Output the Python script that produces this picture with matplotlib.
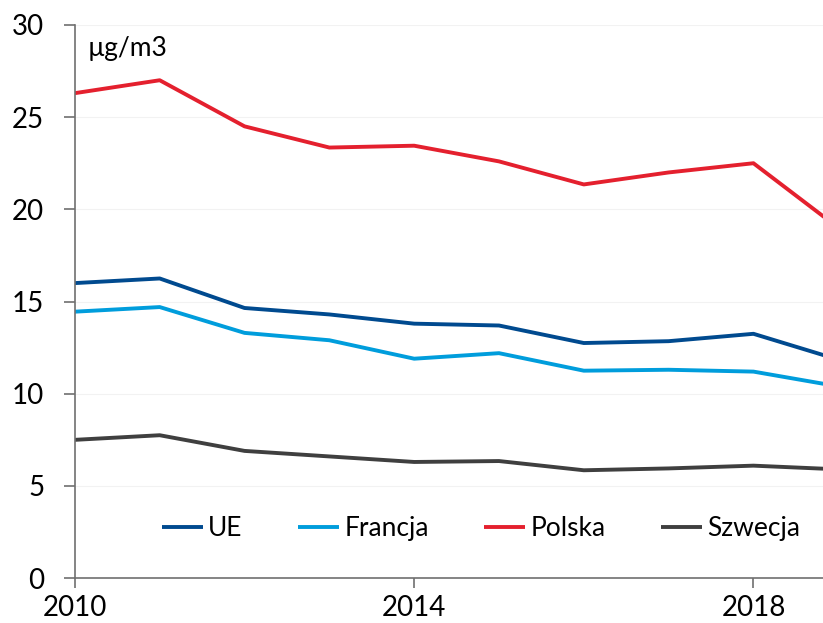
import matplotlib.pyplot as plt

# annual mean PM2.5 concentration, µg/m3
years = [2010, 2011, 2012, 2013, 2014, 2015, 2016, 2017, 2018, 2019]
ue = [16.0, 16.25, 14.65, 14.3, 13.8, 13.7, 12.75, 12.85, 13.25, 11.85]
francja = [14.45, 14.7, 13.3, 12.9, 11.9, 12.2, 11.25, 11.3, 11.2, 10.4]
polska = [26.3, 27.0, 24.5, 23.35, 23.45, 22.6, 21.35, 22.0, 22.5, 19.0]
szwecja = [7.5, 7.75, 6.9, 6.6, 6.3, 6.35, 5.85, 5.95, 6.1, 5.9]

series = [
    ("UE", ue, "#004a8f"),
    ("Francja", francja, "#009ddc"),
    ("Polska", polska, "#e4202e"),
    ("Szwecja", szwecja, "#3f3f3f"),
]

plt.rcParams["font.family"] = ["Lato", "DejaVu Sans"]

fig = plt.figure(figsize=(8.23, 6.23), dpi=100)
ax = fig.add_axes([0.091, 0.072, 0.909, 0.888])

for name, values, color in series:
    ax.plot(years, values, color=color, lw=2.8, label=name, solid_capstyle="butt")

ax.set_xlim(2010, 2018.82)
ax.set_ylim(0, 30)
ax.set_xticks([2010, 2014, 2018])
ax.set_yticks(range(0, 31, 5))
ax.yaxis.grid(True, color="#f2f2f2", lw=0.8)
ax.set_axisbelow(True)

for side in ["top", "right"]:
    ax.spines[side].set_visible(False)
for side in ["left", "bottom"]:
    ax.spines[side].set_color("#707070")
    ax.spines[side].set_linewidth(1.2)

ax.tick_params(axis="y", length=8, width=1.2, color="#707070", labelsize=20, pad=14)
ax.tick_params(axis="x", length=7, width=1.2, color="#707070", labelsize=20, pad=5)

ax.text(0.017, 0.98, "µg/m3", transform=ax.transAxes, fontsize=19, va="top", ha="left")

ax.legend(loc="center", bbox_to_anchor=(0.543, 0.09), ncol=4, frameon=False,
          fontsize=19, handlelength=1.55, handletextpad=0.2, columnspacing=2.1)

fig.savefig("out.png", dpi=100)
